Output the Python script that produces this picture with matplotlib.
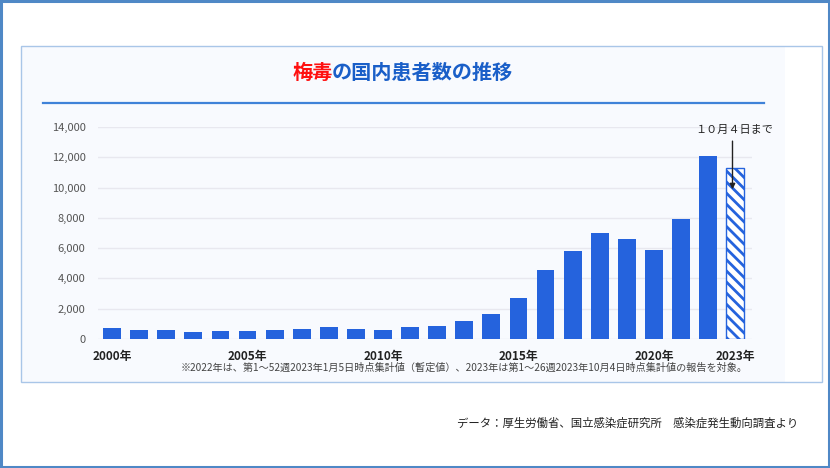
import numpy as np
from matplotlib import pyplot as plt
import matplotlib
from matplotlib.patches import Rectangle
from matplotlib.lines import Line2D

matplotlib.rcParams["font.family"] = ["Noto Sans CJK JP", "DejaVu Sans"]
matplotlib.rcParams["hatch.linewidth"] = 2.0

years = list(range(2000, 2024))
cases = [730, 575, 570, 485, 525, 530, 595, 660, 815, 640, 595, 815, 840,
         1190, 1630, 2690, 4560, 5800, 6980, 6610, 5860, 7950, 12080, 11280]
tick_years = [2000, 2005, 2010, 2015, 2020, 2023]
tick_labels = [f"{y}年" for y in tick_years]
yticks = [0, 2000, 4000, 6000, 8000, 10000, 12000, 14000]

W, H = 830, 468
fig = plt.figure(figsize=(W / 100, H / 100), dpi=100)
fig.patch.set_facecolor("white")


def px(x, y):
    return x / W, 1 - y / H


# outer frame
fig.patches.append(Rectangle((0.0015, 0.002), 0.997, 0.995, transform=fig.transFigure,
                             fill=False, edgecolor="#4f88c6", lw=2.2, zorder=-2))
# inner panel
x0, y0 = px(21, 382)
fig.patches.append(Rectangle((x0, y0), (785 - 21) / W, (382 - 46) / H, transform=fig.transFigure,
                             facecolor="#f8fafe", edgecolor="none", zorder=-2))
fig.patches.append(Rectangle((x0, y0), (822 - 21) / W, (382 - 46) / H, transform=fig.transFigure,
                             fill=False, edgecolor="#a9c6e8", lw=1.0, zorder=-2))

# title
tx, ty = px(333, 72)
fig.text(tx, ty, "梅毒", color="#ff1010", fontsize=14.5, fontweight="bold", ha="right", va="center")
fig.text(tx - 1 / W, ty, "の国内患者数の推移", color="#1a5fc8", fontsize=14.5, fontweight="bold",
         ha="left", va="center")
fig.lines.append(Line2D([43 / W, 764 / W], [1 - 103 / H] * 2, transform=fig.transFigure,
                        color="#3f82d8", lw=1.6))

# axes
ax = fig.add_axes([98 / W, 1 - 339 / H, (752 - 98) / W, (339 - 127) / H])
ax.set_zorder(2)
ax.set_facecolor("none")
idx = np.arange(len(years))
colors = "#2563dd"
ax.bar(idx[:-1], cases[:-1], width=0.66, color=colors, zorder=3)
ax.bar(idx[-1], cases[-1], width=0.66, facecolor="white", edgecolor=colors,
       hatch="\\\\\\", lw=1.0, zorder=3)

ax.set_xlim(-0.52, 23.62)
ax.set_ylim(0, 14000)
ax.set_yticks(yticks)
ax.set_yticklabels([f"{v:,}" for v in yticks], color="#555555", fontsize=8)
ax.set_xticks([years.index(y) for y in tick_years])
ax.set_xticklabels(tick_labels, fontsize=8.5, fontweight="bold", color="#222222")
ax.tick_params(axis="both", length=0)
ax.tick_params(axis="y", pad=9)
ax.tick_params(axis="x", pad=8)
ax.grid(axis="y", color="#e8e8ef", lw=1, zorder=0)
for s in ax.spines.values():
    s.set_visible(False)

ax.annotate("", xy=(22.9, 9700), xytext=(22.9, 13250),
            arrowprops=dict(arrowstyle="-|>", color="#222222", lw=1.0, mutation_scale=8),
            annotation_clip=False, zorder=5)
ax.text(22.95, 13800, "１０月４日まで", fontsize=8, color="#222222", ha="center", va="center",
        clip_on=False)

# notes
fx, fy = px(464, 368)
fig.text(fx, fy, "※2022年は、第1～52週2023年1月5日時点集計値（暫定値）、2023年は第1～26週2023年10月4日時点集計値の報告を対象。",
         fontsize=7.3, color="#444444", ha="center", va="center")
sx, sy = px(798, 423)
fig.text(sx, sy, "データ：厚生労働省、国立感染症研究所　感染症発生動向調査より",
         fontsize=8.2, color="#222222", ha="right", va="center")

plt.savefig("out.png", dpi=100)
plt.close()
